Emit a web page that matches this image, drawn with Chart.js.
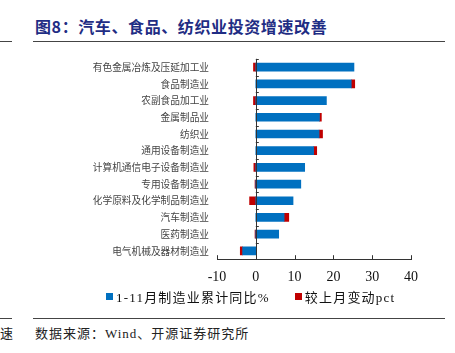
<!DOCTYPE html>
<html>
<head>
<meta charset="utf-8">
<script src="https://cdn.jsdelivr.net/npm/chart.js@4/dist/chart.umd.min.js"></script>
<style>
  body { margin: 0; width: 455px; height: 353px; background: #fff; position: relative; overflow: hidden; }
  .title { position: absolute; left: 35px; top: 14px; font: bold 16px "Noto Sans CJK SC", sans-serif; color: #1f2d84; letter-spacing: 0.6px; white-space: nowrap; }
  .rule { position: absolute; height: 1px; background: #444; }
  .source { position: absolute; top: 323px; font: 13px "Liberation Serif", "Noto Sans CJK SC", serif; color: #222; white-space: nowrap; letter-spacing: 1px; }
  #wrap { position: absolute; left: 48px; top: 45px; width: 407px; height: 251px; }
  #legend { position: absolute; left: 106px; top: 287px; display: flex; align-items: center; font: 13px "Liberation Serif", "Noto Sans CJK SC", serif; color: #111; white-space: nowrap; letter-spacing: 1.2px; }
  #legend span.box { display: inline-block; width: 7px; height: 7px; margin-right: 3px; }
</style>
</head>
<body>
<div class="title">图8：汽车、食品、纺织业投资增速改善</div>
<div class="rule" style="left:0; width:12px; top:41px;"></div>
<div class="rule" style="left:33px; width:412px; top:41px;"></div>
<div class="rule" style="left:0; width:12px; top:318px;"></div>
<div class="rule" style="left:33px; width:412px; top:318px;"></div>
<div class="source" style="left:0;">速</div>
<div class="source" style="left:35px;">数据来源：Wind、开源证券研究所</div>
<div id="wrap"><canvas id="myChart"></canvas></div>
<div id="legend"></div>
<script>
const categories = ['有色金属冶炼及压延加工业', '食品制造业', '农副食品加工业', '金属制品业', '纺织业', '通用设备制造业',
  '计算机通信电子设备制造业', '专用设备制造业', '化学原料及化学制品制造业', '汽车制造业', '医药制造业', '电气机械及器材制造业'];
const ytdGrowth = [25.3, 24.6, 18.2, 16.4, 16.3, 14.9, 12.6, 11.6, 9.6, 7.3, 5.9, -3.4];
const momChange = [-0.6, 0.9, -0.6, 0.5, 0.9, 0.8, -0.5, -0.2, -1.6, 1.2, -0.2, -0.6];
const xTicks = [-10, 0, 10, 20, 30, 40];

// axis line at zero plus small tick marks, like the original
const axisMarks = {
  id: 'axisMarks',
  afterDatasetsDraw(chart) {
    const {ctx, chartArea, scales: {x, y}} = chart;
    const x0 = x.getPixelForValue(0);
    ctx.save();
    ctx.strokeStyle = '#333';
    ctx.lineWidth = 1;
    ctx.beginPath();
    ctx.moveTo(Math.round(x0) + 0.5, chartArea.top);
    ctx.lineTo(Math.round(x0) + 0.5, chartArea.bottom);
    for (let i = 0; i <= categories.length; i++) {
      const py = Math.round(y.getPixelForValue(i - 0.5)) + 0.5;
      ctx.moveTo(x0, py);
      ctx.lineTo(x0 + 3, py);
    }
    xTicks.forEach(v => {
      const px = Math.round(x.getPixelForValue(v)) + 0.5;
      ctx.moveTo(px, chartArea.bottom);
      ctx.lineTo(px, chartArea.bottom - 4);
    });
    ctx.stroke();
    ctx.restore();
  }
};

const ctx = document.getElementById('myChart').getContext('2d');
const myChart = new Chart(ctx, {
  type: 'bar',
  data: {
    labels: categories,
    datasets: [{
      label: '1-11月制造业累计同比%',
      data: ytdGrowth,
      backgroundColor: '#0070c0',
      barThickness: 8
    }, {
      label: '较上月变动pct',
      data: momChange,
      backgroundColor: '#c00000',
      barThickness: 8
    }]
  },
  options: {
    indexAxis: 'y',
    responsive: true,
    maintainAspectRatio: false,
    animation: false,
    layout: { padding: { top: 8, right: 44, left: 0, bottom: 0 } },
    scales: {
      x: {
        stacked: true,
        min: -10,
        max: 40,
        afterBuildTicks: scale => { scale.ticks = xTicks.map(v => ({value: v})); },
        grid: { display: false, drawTicks: false },
        border: { display: true, color: '#333' },
        ticks: { padding: 10, color: '#111', font: { family: 'Liberation Serif', size: 14 } }
      },
      y: {
        stacked: true,
        afterFit: scale => { scale.width = 169; },
        grid: { display: false, drawTicks: false },
        border: { display: false },
        ticks: { autoSkip: false, padding: 8, color: '#444', font: { family: 'Noto Sans CJK SC', size: 9.7 } }
      }
    },
    plugins: {
      legend: { display: false },
      tooltip: { enabled: false }
    }
  },
  plugins: [axisMarks]
});

// legend built from the chart's own datasets
const legendEl = document.getElementById('legend');
myChart.data.datasets.forEach((ds, i) => {
  const item = document.createElement('span');
  item.style.display = 'inline-flex';
  item.style.alignItems = 'center';
  if (i > 0) item.style.marginLeft = '25px';
  item.innerHTML = '<span class="box" style="background:' + ds.backgroundColor + '"></span>' + ds.label;
  legendEl.appendChild(item);
});
</script>
</body>
</html>
